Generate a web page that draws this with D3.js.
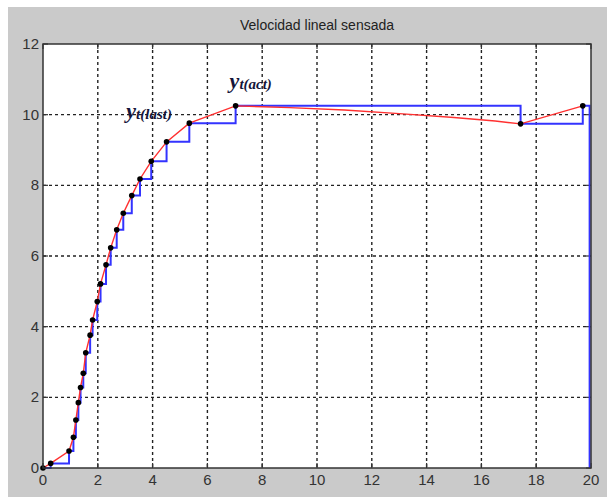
<!DOCTYPE html>
<html>
<head>
<meta charset="utf-8">
<script src="https://cdn.jsdelivr.net/npm/d3@7"></script>
<style>
  html, body { margin: 0; padding: 0; background: #fff; }
  svg { display: block; }
</style>
</head>
<body>
<svg id="chart" width="607" height="497"></svg>
<script>
// Sensed linear velocity: sampled values (dots), continuous signal (red)
// and the zero-order hold of the samples (blue staircase).
const titleText = "Velocidad lineal sensada";
const xTicks = [0, 2, 4, 6, 8, 10, 12, 14, 16, 18, 20];
const yTicks = [0, 2, 4, 6, 8, 10, 12];

// Sample instants and sampled velocity
const sampleT = [0, 0.28, 0.95, 1.11, 1.2, 1.29, 1.37, 1.47, 1.56, 1.72, 1.81, 1.98,
                 2.1, 2.3, 2.47, 2.69, 2.93, 3.24, 3.54, 3.95, 4.51, 5.34, 7.03, 17.43, 19.7];
const sampleV = [0, 0.13, 0.48, 0.87, 1.36, 1.85, 2.28, 2.68, 3.26, 3.76, 4.19, 4.71,
                 5.21, 5.75, 6.23, 6.74, 7.21, 7.71, 8.18, 8.68, 9.23, 9.76, 10.25, 9.74, 10.25];

// Continuous velocity signal
const signalT = [0, 0.28, 0.95, 1.11, 1.2, 1.29, 1.37, 1.47, 1.56, 1.72, 1.81, 1.98,
                 2.1, 2.3, 2.47, 2.69, 2.93, 3.24, 3.54, 3.95, 4.51, 5.34, 7.03,
                 9, 11, 13, 15, 16.5, 17.43, 19.7];
const signalV = [0, 0.13, 0.48, 0.87, 1.36, 1.85, 2.28, 2.68, 3.26, 3.76, 4.19, 4.71,
                 5.21, 5.75, 6.23, 6.74, 7.21, 7.71, 8.18, 8.68, 9.23, 9.76, 10.25,
                 10.2, 10.13, 10.03, 9.92, 9.82, 9.74, 10.25];

// Held output: the samples, then the drop back to zero at the end of the run
const holdT = sampleT.concat([19.95]);
const holdV = sampleV.concat([0]);

// Annotated samples
const notes = [
  { main: "y", sub: "t(last)", t: 5.34, v: 9.76 },
  { main: "y", sub: "t(act)",  t: 7.03, v: 10.25 }
];

const W = 607, H = 497;
const plot = { left: 43, right: 591, top: 44, bottom: 468 };

const svg = d3.select("#chart");

// Figure background
svg.append("rect").attr("x", 8).attr("y", 7).attr("width", W - 8).attr("height", H - 7)
  .attr("fill", "#cacaca");

const x = d3.scaleLinear().domain([0, 20]).range([plot.left, plot.right]);
const y = d3.scaleLinear().domain([0, 12]).range([plot.bottom, plot.top]);

// Axes area
svg.append("rect")
  .attr("x", plot.left).attr("y", plot.top)
  .attr("width", plot.right - plot.left).attr("height", plot.bottom - plot.top)
  .attr("fill", "#ffffff");

const grid = svg.append("g").attr("stroke", "#222").attr("stroke-width", 1.4)
  .attr("stroke-dasharray", "3,3");
grid.selectAll("line.gx").data(xTicks.slice(1, -1)).join("line")
  .attr("x1", d => x(d)).attr("x2", d => x(d))
  .attr("y1", plot.top).attr("y2", plot.bottom);
grid.selectAll("line.gy").data(yTicks.slice(1, -1)).join("line")
  .attr("y1", d => y(d)).attr("y2", d => y(d))
  .attr("x1", plot.left).attr("x2", plot.right);

// Inward tick marks on all four sides
const tickLen = 5;
const ticks = svg.append("g").attr("stroke", "#333").attr("stroke-width", 1.2);
xTicks.forEach(t => {
  ticks.append("line").attr("x1", x(t)).attr("x2", x(t)).attr("y1", plot.bottom).attr("y2", plot.bottom - tickLen);
  ticks.append("line").attr("x1", x(t)).attr("x2", x(t)).attr("y1", plot.top).attr("y2", plot.top + tickLen);
});
yTicks.forEach(v => {
  ticks.append("line").attr("y1", y(v)).attr("y2", y(v)).attr("x1", plot.left).attr("x2", plot.left + tickLen);
  ticks.append("line").attr("y1", y(v)).attr("y2", y(v)).attr("x1", plot.right).attr("x2", plot.right - tickLen);
});

// Zero-order hold
const holdLine = d3.line().x(d => x(d[0])).y(d => y(d[1])).curve(d3.curveStepAfter);
svg.append("path")
  .datum(holdT.map((t, i) => [t, holdV[i]]))
  .attr("d", holdLine)
  .attr("fill", "none").attr("stroke", "#3333ff").attr("stroke-width", 2);

// Continuous signal
const signalLine = d3.line().x(d => x(d[0])).y(d => y(d[1]));
svg.append("path")
  .datum(signalT.map((t, i) => [t, signalV[i]]))
  .attr("d", signalLine)
  .attr("fill", "none").attr("stroke", "#ff3030").attr("stroke-width", 1.4);

// Sample markers
svg.append("g").selectAll("circle")
  .data(sampleT.map((t, i) => [t, sampleV[i]]))
  .join("circle")
  .attr("cx", d => x(d[0])).attr("cy", d => y(d[1])).attr("r", 2.8)
  .attr("fill", "#000");

// Axes box
svg.append("rect")
  .attr("x", plot.left).attr("y", plot.top)
  .attr("width", plot.right - plot.left).attr("height", plot.bottom - plot.top)
  .attr("fill", "none").attr("stroke", "#333").attr("stroke-width", 1.5);

// Tick labels
const labelFont = "'Liberation Sans', Arial, sans-serif";
svg.append("g").selectAll("text").data(xTicks).join("text")
  .attr("x", d => x(d)).attr("y", plot.bottom + 17)
  .attr("text-anchor", "middle")
  .attr("font-family", labelFont).attr("font-size", 15).attr("fill", "#333")
  .text(d => d);
svg.append("g").selectAll("text").data(yTicks).join("text")
  .attr("x", plot.left - 4).attr("y", d => y(d) + 5)
  .attr("text-anchor", "end")
  .attr("font-family", labelFont).attr("font-size", 15).attr("fill", "#333")
  .text(d => d);

// Title
svg.append("text")
  .attr("x", (plot.left + plot.right) / 2).attr("y", 30)
  .attr("text-anchor", "middle")
  .attr("font-family", labelFont).attr("font-size", 14).attr("fill", "#222")
  .text(titleText);

// Sample annotations
const noteOffsets = [{ dx: -63, dy: -5 }, { dx: -6, dy: -18 }];
notes.forEach((n, i) => {
  const t = svg.append("text")
    .attr("x", x(n.t) + noteOffsets[i].dx)
    .attr("y", y(n.v) + noteOffsets[i].dy)
    .attr("font-family", "'Liberation Serif', 'DejaVu Serif', serif")
    .attr("font-style", "italic").attr("font-weight", "bold")
    .attr("fill", "#15153a");
  t.append("tspan").attr("font-size", 22).text(n.main);
  t.append("tspan").attr("font-size", 15).attr("dy", 1).text(n.sub);
});
</script>
</body>
</html>
